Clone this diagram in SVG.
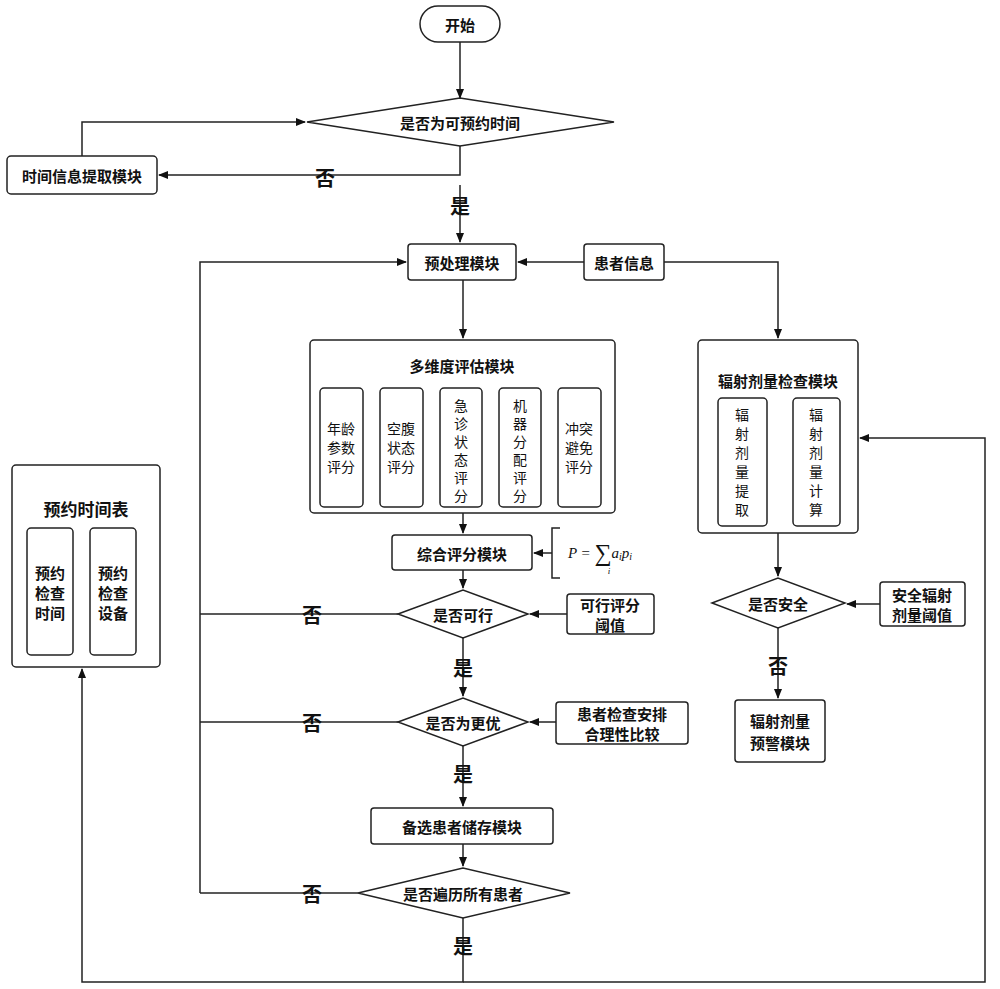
<svg xmlns="http://www.w3.org/2000/svg" width="1000" height="989" viewBox="0 0 1000 989">
<defs><marker id="a" markerWidth="10" markerHeight="10" refX="9" refY="5" orient="auto" markerUnits="userSpaceOnUse"><path d="M0,1 L10,5 L0,9 Z" fill="#111"/></marker></defs>
<style>
text{font-family:"Noto Sans CJK SC","Noto Sans",sans-serif;fill:#111;text-anchor:middle;dominant-baseline:central}
.b{font-weight:bold;font-size:15px}
.s{font-size:14px}
.y{font-weight:bold;font-size:20px}
.n{fill:#fff;stroke:#222;stroke-width:1.5}
.c path{fill:none;stroke:#222;stroke-width:1.5}
</style>
<rect width="1000" height="989" fill="#fff"/>
<g class="c">
<path d="M460,42 V98" marker-end="url(#a)"/>
<path d="M460,146 V175 H159" marker-end="url(#a)"/>
<path d="M82,156 V122 H305" marker-end="url(#a)"/>
<path d="M460,185 V242" marker-end="url(#a)"/>
<path d="M584,262 H518" marker-end="url(#a)"/>
<path d="M664,262 H778 V338" marker-end="url(#a)"/>
<path d="M200,893 V262 H406" marker-end="url(#a)"/>
<path d="M463,280 V338" marker-end="url(#a)"/>
<path d="M463,513 V533" marker-end="url(#a)"/>
<path d="M552,553 H534" marker-end="url(#a)"/>
<path d="M560,528 H552 V578 H560"/>
<path d="M463,570 V588" marker-end="url(#a)"/>
<path d="M567,614 H530" marker-end="url(#a)"/>
<path d="M398,614 H200"/>
<path d="M463,638 V696" marker-end="url(#a)"/>
<path d="M556,722 H530" marker-end="url(#a)"/>
<path d="M398,722 H200"/>
<path d="M463,746 V806" marker-end="url(#a)"/>
<path d="M463,844 V866" marker-end="url(#a)"/>
<path d="M358,893 H200"/>
<path d="M463,918 V982 H82 V669" marker-end="url(#a)"/>
<path d="M463,982 H985 V438 H860" marker-end="url(#a)"/>
<path d="M778,533 V576" marker-end="url(#a)"/>
<path d="M880,604 H847" marker-end="url(#a)"/>
<path d="M778,628 V698" marker-end="url(#a)"/>
</g>
<g><text x="325" y="177" class="y">否</text><text x="460" y="205" class="y">是</text><text x="312" y="614" class="y">否</text><text x="463" y="667" class="y">是</text><text x="312" y="722" class="y">否</text><text x="463" y="773" class="y">是</text><text x="312" y="893" class="y">否</text><text x="463" y="945" class="y">是</text><text x="778" y="665" class="y">否</text></g>
<g id="start"><rect class="n" x="420" y="6" width="80" height="36" rx="18"/><text x="460" y="24" class="b">开始</text></g>
<g id="d1"><polygon class="n" points="307,122 460,98 614,122 460,146"/><text x="460" y="122" class="b">是否为可预约时间</text></g>
<g id="time"><rect class="n" x="7" y="156" width="150" height="38" rx="4"/><text x="82" y="175" class="b">时间信息提取模块</text></g>
<g id="pre"><rect class="n" x="408" y="244" width="108" height="36" rx="3"/><text x="462" y="262" class="b">预处理模块</text></g>
<g id="pat"><rect class="n" x="584" y="244" width="80" height="36" rx="3"/><text x="624" y="262" class="b">患者信息</text></g>
<g id="multi"><rect class="n" x="310" y="340" width="305" height="173" rx="4"/><text x="462" y="365" class="b">多维度评估模块</text>
<rect class="n" x="320" y="388" width="43" height="119" rx="4"/><text x="341" y="428" class="s">年龄</text><text x="341" y="447" class="s">参数</text><text x="341" y="466" class="s">评分</text>
<rect class="n" x="380" y="388" width="43" height="119" rx="4"/><text x="401" y="428" class="s">空腹</text><text x="401" y="447" class="s">状态</text><text x="401" y="466" class="s">评分</text>
<rect class="n" x="440" y="388" width="42" height="119" rx="4"/><text x="461" y="405" class="s">急</text><text x="461" y="423" class="s">诊</text><text x="461" y="441" class="s">状</text><text x="461" y="459" class="s">态</text><text x="461" y="477" class="s">评</text><text x="461" y="495" class="s">分</text>
<rect class="n" x="499" y="388" width="42" height="119" rx="4"/><text x="520" y="405" class="s">机</text><text x="520" y="423" class="s">器</text><text x="520" y="441" class="s">分</text><text x="520" y="459" class="s">配</text><text x="520" y="477" class="s">评</text><text x="520" y="495" class="s">分</text>
<rect class="n" x="558" y="388" width="43" height="119" rx="4"/><text x="579" y="428" class="s">冲突</text><text x="579" y="447" class="s">避免</text><text x="579" y="466" class="s">评分</text></g>
<g id="comp"><rect class="n" x="392" y="535" width="140" height="35" rx="3"/><text x="462" y="553" class="b">综合评分模块</text></g>
<g id="formula"><text x="600" y="553" style="font-family:'Liberation Serif',serif;font-style:italic;font-size:15px">P = <tspan font-style="normal" font-size="24">∑</tspan><tspan>a</tspan><tspan font-size="10" dy="3">i</tspan><tspan dy="-3">p</tspan><tspan font-size="10" dy="3">i</tspan></text><text x="609" y="571" style="font-family:'Liberation Serif',serif;font-style:italic;font-size:9px">i</text></g>
<g id="d2"><polygon class="n" points="398,614 463,590 528,614 463,638"/><text x="463" y="614" class="b">是否可行</text></g>
<g id="thr"><rect class="n" x="567" y="594" width="87" height="40" rx="3"/><text x="610" y="604" class="b">可行评分</text><text x="610" y="624" class="b">阈值</text></g>
<g id="d3"><polygon class="n" points="398,722 463,698 528,722 463,746"/><text x="463" y="722" class="b">是否为更优</text></g>
<g id="cmp"><rect class="n" x="556" y="702" width="132" height="42" rx="3"/><text x="622" y="713" class="b">患者检查安排</text><text x="622" y="733" class="b">合理性比较</text></g>
<g id="store"><rect class="n" x="371" y="808" width="182" height="36" rx="3"/><text x="462" y="826" class="b">备选患者储存模块</text></g>
<g id="d4"><polygon class="n" points="358,893 463,868 570,893 463,918"/><text x="463" y="893" class="b">是否遍历所有患者</text></g>
<g id="sched"><rect class="n" x="12" y="465" width="148" height="202" rx="4"/><text x="86" y="508" class="b" style="font-size:17px">预约时间表</text>
<rect class="n" x="27" y="528" width="46" height="127" rx="4"/><text x="50" y="572" class="b">预约</text><text x="50" y="592" class="b">检查</text><text x="50" y="612" class="b">时间</text>
<rect class="n" x="90" y="528" width="46" height="127" rx="4"/><text x="113" y="572" class="b">预约</text><text x="113" y="592" class="b">检查</text><text x="113" y="612" class="b">设备</text></g>
<g id="rad"><rect class="n" x="698" y="340" width="160" height="193" rx="4"/><text x="778" y="380" class="b">辐射剂量检查模块</text>
<rect class="n" x="718" y="398" width="49" height="128" rx="4"/><text x="742" y="414" class="s">辐</text><text x="742" y="433" class="s">射</text><text x="742" y="452" class="s">剂</text><text x="742" y="471" class="s">量</text><text x="742" y="490" class="s">提</text><text x="742" y="509" class="s">取</text>
<rect class="n" x="793" y="398" width="47" height="128" rx="4"/><text x="816" y="414" class="s">辐</text><text x="816" y="433" class="s">射</text><text x="816" y="452" class="s">剂</text><text x="816" y="471" class="s">量</text><text x="816" y="490" class="s">计</text><text x="816" y="509" class="s">算</text></g>
<g id="d5"><polygon class="n" points="712,603 778,578 845,603 778,628"/><text x="778" y="603" class="b">是否安全</text></g>
<g id="sthr"><rect class="n" x="880" y="582" width="85" height="44" rx="3"/><text x="922" y="594" class="b">安全辐射</text><text x="922" y="614" class="b">剂量阈值</text></g>
<g id="warn"><rect class="n" x="735" y="700" width="90" height="62" rx="3"/><text x="780" y="720" class="b">辐射剂量</text><text x="780" y="742" class="b">预警模块</text></g>
</svg>
